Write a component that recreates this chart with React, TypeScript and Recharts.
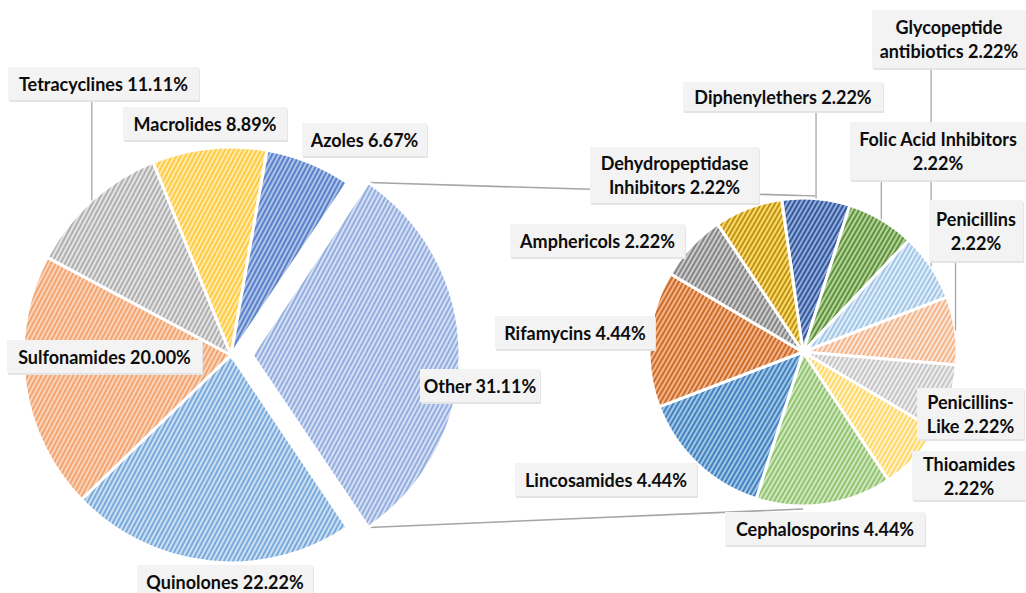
import React from 'react';
import { PieChart, Pie, Cell } from 'recharts';

// first pie (whole set)
const mainNames = ['Other', 'Quinolones', 'Sulfonamides', 'Tetracyclines', 'Macrolides', 'Azoles'];
const mainValues = [31.11, 22.22, 20.0, 11.11, 8.89, 6.67];

// second pie (breakdown of "Other")
const otherNames = [
    'Diphenylethers',
    'Folic Acid Inhibitors',
    'Glycopeptide antibiotics',
    'Penicillins',
    'Penicillins-Like',
    'Thioamides',
    'Cephalosporins',
    'Lincosamides',
    'Rifamycins',
    'Amphericols',
    'Dehydropeptidase Inhibitors',
];
const otherValues = [2.22, 2.22, 2.22, 2.22, 2.22, 2.22, 4.44, 4.44, 4.44, 2.22, 2.22];

const leftData = mainNames.map((name, i) => ({ name, value: mainValues[i] }));
const rightData = otherNames.map((name, i) => ({ name, value: otherValues[i] }));

// [stripe, background]
const leftColors: [string, string][] = [
    ['#94AEE0', '#D6E0F5'],
    ['#79AADB', '#CDE0F3'],
    ['#F3A571', '#FAD4BA'],
    ['#B0B0B0', '#E4E4E4'],
    ['#FFCB40', '#FFEBAE'],
    ['#5A82CB', '#B0C3E9'],
];
const rightColors: [string, string][] = [
    ['#35599A', '#93ADDD'],
    ['#62903F', '#B2D599'],
    ['#A2C6E8', '#E2EEF8'],
    ['#F5B58A', '#FCE7DA'],
    ['#C6C6C6', '#EFEFEF'],
    ['#FFD863', '#FFF3CF'],
    ['#91C46E', '#D0E7C1'],
    ['#4282BF', '#A3C6E7'],
    ['#CB6C2A', '#F4B58D'],
    ['#858585', '#CCCCCC'],
    ['#BD9516', '#FFDA6B'],
];

const W = 1026;
const H = 593;
const L = { cx: 231, cy: 355, r: 208, explode: 21 };
const R = { cx: 803, cy: 352, r: 154, start: 98 };
const leftStart = (mainValues[0] / mainValues.reduce((a, b) => a + b, 0)) * 180;

type Box = { x: number; y: number; w: number; h: number; br?: string; leader?: boolean };
const LABELS: Record<string, Box> = {
    Other: { x: 420, y: 369, w: 120, h: 33 },
    Quinolones: { x: 137, y: 565, w: 176, h: 33 },
    Sulfonamides: { x: 7, y: 340, w: 195, h: 33 },
    Tetracyclines: { x: 8, y: 67, w: 191, h: 33, leader: true },
    Macrolides: { x: 123, y: 107, w: 164, h: 33 },
    Azoles: { x: 302, y: 123, w: 125, h: 33 },
    Diphenylethers: { x: 683, y: 82, w: 200, h: 29, leader: true },
    'Folic Acid Inhibitors': { x: 850, y: 122, w: 176, h: 58, br: 'Folic Acid Inhibitors', leader: true },
    'Glycopeptide antibiotics': { x: 872, y: 10, w: 154, h: 58, br: 'Glycopeptide', leader: true },
    Penicillins: { x: 929, y: 200, w: 94, h: 61, br: 'Penicillins', leader: true },
    'Penicillins-Like': { x: 917, y: 388, w: 107, h: 51, br: 'Penicillins-' },
    Thioamides: { x: 912, y: 451, w: 114, h: 49, br: 'Thioamides' },
    Cephalosporins: { x: 725, y: 512, w: 200, h: 33 },
    Lincosamides: { x: 515, y: 463, w: 182, h: 33 },
    Rifamycins: { x: 495, y: 316, w: 160, h: 33 },
    Amphericols: { x: 510, y: 224, w: 175, h: 33 },
    'Dehydropeptidase Inhibitors': { x: 590, y: 147, w: 169, h: 56, br: 'Dehydropeptidase' },
};

const RAD = Math.PI / 180;
const clamp = (v: number, a: number, b: number) => Math.max(a, Math.min(b, v));
const font = "Lato, 'Open Sans', sans-serif";

const renderLeader = (props: any) => {
    const { cx, cy, midAngle, outerRadius, payload } = props;
    const box = LABELS[payload.name];
    if (!box || !box.leader) return <g />;
    const ax = cx + outerRadius * Math.cos(-midAngle * RAD);
    const ay = cy + outerRadius * Math.sin(-midAngle * RAD);
    const bx = clamp(ax, box.x, box.x + box.w);
    const by = clamp(ay, box.y, box.y + box.h);
    return <line x1={ax} y1={ay} x2={bx} y2={by} stroke="#A6A6A6" strokeWidth={1.3} />;
};

const renderBox = (props: any) => {
    const { payload } = props;
    const box = LABELS[payload.name];
    if (!box) return <g />;
    const text = `${payload.name} ${payload.value.toFixed(2)}%`;
    const lines = box.br ? [box.br, text.slice(box.br.length).trim()] : [text];
    const mx = box.x + box.w / 2;
    const my = box.y + box.h / 2;
    return (
        <g>
            <rect x={box.x + 1} y={box.y + 2} width={box.w} height={box.h} fill="#E4E4E4" />
            <rect x={box.x} y={box.y} width={box.w} height={box.h} fill="#F3F3F3" />
            {lines.map((ln, i) => (
                <text
                    key={i}
                    x={mx}
                    y={my + (i - (lines.length - 1) / 2) * 24}
                    textAnchor="middle"
                    dominantBaseline="central"
                    fontFamily={font}
                    fontWeight={700}
                    fontSize={18}
                    fill="#0D0D0D"
                >
                    {ln}
                </text>
            ))}
        </g>
    );
};

const App = () => {
    // series lines from the exploded slice to the second pie
    const ox = L.cx + L.explode;
    const tipX = ox + L.r * Math.cos(leftStart * RAD);
    const tipDy = L.r * Math.sin(leftStart * RAD);
    return (
        <div style={{ position: 'absolute', left: 0, top: 0, width: W, height: H, background: '#fff' }}>
            <svg width={W} height={H} style={{ position: 'absolute', left: 0, top: 0 }}>
                <line x1={tipX} y1={L.cy - tipDy} x2={R.cx + 12} y2={R.cy - R.r - 2} stroke="#A6A6A6" strokeWidth={1.6} />
                <line x1={tipX} y1={L.cy + tipDy} x2={R.cx} y2={R.cy + R.r + 3} stroke="#A6A6A6" strokeWidth={1.6} />
            </svg>
            <div style={{ position: 'absolute', left: 0, top: 0 }}>
                <PieChart width={W} height={H} margin={{ top: 0, right: 0, bottom: 0, left: 0 }}>
                    <defs>
                        {leftColors.map(([fg, bg], i) => (
                            <pattern key={`l${i}`} id={`hl${i}`} patternUnits="userSpaceOnUse" width={4} height={4} patternTransform="rotate(28)">
                                <rect width={4} height={4} fill={bg} />
                                <rect width={2} height={4} fill={fg} />
                            </pattern>
                        ))}
                        {rightColors.map(([fg, bg], i) => (
                            <pattern key={`r${i}`} id={`hr${i}`} patternUnits="userSpaceOnUse" width={4} height={4} patternTransform="rotate(30)">
                                <rect width={4} height={4} fill={bg} />
                                <rect width={2} height={4} fill={fg} />
                            </pattern>
                        ))}
                    </defs>
                    <Pie
                        data={leftData}
                        dataKey="value"
                        nameKey="name"
                        cx={L.cx}
                        cy={L.cy}
                        outerRadius={L.r}
                        startAngle={leftStart}
                        endAngle={leftStart - 360}
                        isAnimationActive={false}
                        label={renderLeader}
                        labelLine={false}
                    >
                        {leftData.map((d, i) => (
                            <Cell key={d.name} fill={i === 0 ? 'none' : `url(#hl${i})`} stroke={i === 0 ? 'none' : '#fff'} strokeWidth={3} />
                        ))}
                    </Pie>
                    <Pie
                        data={leftData}
                        dataKey="value"
                        nameKey="name"
                        cx={ox}
                        cy={L.cy}
                        outerRadius={L.r}
                        startAngle={leftStart}
                        endAngle={leftStart - 360}
                        isAnimationActive={false}
                        labelLine={false}
                    >
                        {leftData.map((d, i) => (
                            <Cell key={d.name} fill={i === 0 ? 'url(#hl0)' : 'none'} stroke={i === 0 ? '#fff' : 'none'} strokeWidth={3} />
                        ))}
                    </Pie>
                    <Pie
                        data={rightData}
                        dataKey="value"
                        nameKey="name"
                        cx={R.cx}
                        cy={R.cy}
                        outerRadius={R.r}
                        startAngle={R.start}
                        endAngle={R.start - 360}
                        isAnimationActive={false}
                        label={renderLeader}
                        labelLine={false}
                    >
                        {rightData.map((d, i) => (
                            <Cell key={d.name} fill={`url(#hr${i})`} stroke="#fff" strokeWidth={3} />
                        ))}
                    </Pie>
                    {/* label boxes on top of all leader lines */}
                    <Pie
                        data={leftData}
                        dataKey="value"
                        nameKey="name"
                        cx={L.cx}
                        cy={L.cy}
                        outerRadius={L.r}
                        startAngle={leftStart}
                        endAngle={leftStart - 360}
                        isAnimationActive={false}
                        label={renderBox}
                        labelLine={false}
                        fill="none"
                        stroke="none"
                    />
                    <Pie
                        data={rightData}
                        dataKey="value"
                        nameKey="name"
                        cx={R.cx}
                        cy={R.cy}
                        outerRadius={R.r}
                        startAngle={R.start}
                        endAngle={R.start - 360}
                        isAnimationActive={false}
                        label={renderBox}
                        labelLine={false}
                        fill="none"
                        stroke="none"
                    />
                </PieChart>
            </div>
        </div>
    );
};

export default App;
